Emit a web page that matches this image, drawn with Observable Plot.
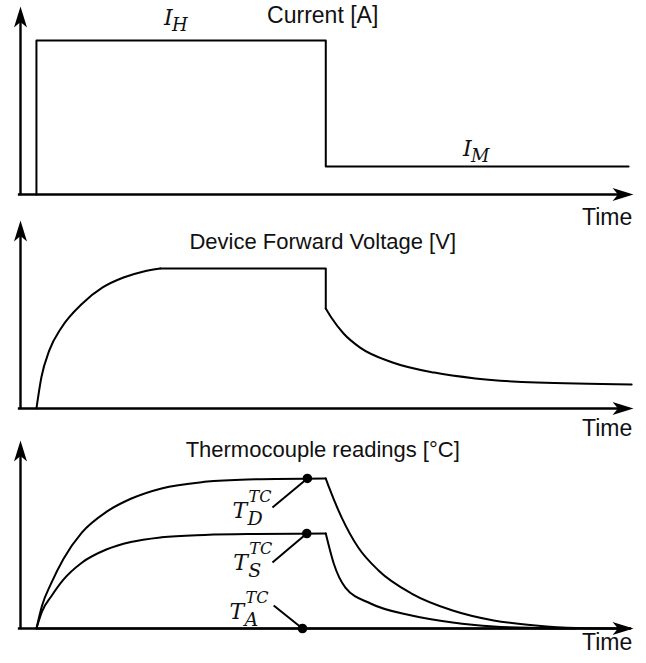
<!DOCTYPE html>
<html><head><meta charset="utf-8">
<script src="https://cdn.jsdelivr.net/npm/d3@7"></script>
<script src="https://cdn.jsdelivr.net/npm/@observablehq/plot@0.6"></script>
<style>
body{margin:0;background:#fff;}
#chart{position:relative;width:646px;height:663px;overflow:hidden;background:#fff;}
#chart svg{position:absolute;left:0;overflow:visible;}
</style></head><body><div id="chart"></div>
<script>
// ---- text ----
const titles = ["Current [A]", "Device Forward Voltage [V]", "Thermocouple readings [°C]"];
const titleX = [49.3, 49.3, 49.3];
const titleBaseline = [0.91, 0.851, 0.91];
const timeLabel = "Time";
const timeLabelBaseline = [-0.16, -0.145, -0.117];

// ---- panel 1: current ----
const currentTime  = [2.6, 2.6, 49.8, 49.8, 99.2];
const currentValue = [0, 0.819, 0.819, 0.149, 0.149];
const currentLabelMain = ["I", "I"];
const currentLabelSub  = ["H", "M"];
const currentLabelTime = [23.4, 72.2];
const currentLabelValue = [0.899, 0.207];

// ---- panel 2: forward voltage ----
const voltageRiseTime  = [2.6, 3.4, 4.7, 6.7, 10.1, 13.4, 16.8, 20.1, 22.8];
const voltageRiseValue = [0, 0.165, 0.309, 0.431, 0.559, 0.644, 0.697, 0.729, 0.745];
const voltageHoldTime  = [22.8, 49.8, 49.8];
const voltageHoldValue = [0.745, 0.745, 0.532];
const voltageDecayTime  = [49.8, 50.7, 52.7, 55.4, 60.7, 67.5, 74.2, 84.2, 99.7];
const voltageDecayValue = [0.532, 0.484, 0.399, 0.324, 0.245, 0.191, 0.160, 0.138, 0.128];

// ---- panel 3: thermocouples ----
const tcRiseTime  = [2.6, 3.5, 5, 7, 10, 14, 18, 23, 30, 37, 49.8];
const tdRiseValue = [0, 0.12, 0.24, 0.37, 0.51, 0.62, 0.69, 0.745, 0.78, 0.793, 0.798];
const tsRiseValue = [0, 0.09, 0.17, 0.26, 0.35, 0.42, 0.46, 0.485, 0.498, 0.503, 0.505];
const tdDecayTime  = [49.8, 50.4, 52.4, 55.1, 58.4, 63.8, 70.5, 77.2, 84.0, 90.7, 99.5];
const tdDecayValue = [0.798, 0.745, 0.59, 0.431, 0.309, 0.186, 0.096, 0.043, 0.016, 0.003, 0];
const tsDecayTime  = [49.8, 51.1, 53.0, 57.1, 63.8, 70.5, 77.2, 84.0, 90.7];
const tsDecayValue = [0.505, 0.346, 0.218, 0.133, 0.069, 0.032, 0.011, 0.003, 0];
const taTime  = [2.6, 99.5];
const taValue = [0, 0];
const tcLabelMain = ["T", "T", "T"];
const tcLabelSub  = ["D", "S", "A"];
const tcLabelSup  = ["TC", "TC", "TC"];
const tcLabelTime  = [34.6, 34.7, 34.1];
const tcLabelValue = [0.59, 0.309, 0.053];
const tcLeaderTime1  = [41.1, 41.1, 41.3];
const tcLeaderValue1 = [0.644, 0.351, 0.122];
const tcPointTime  = [46.8, 46.7, 46.0];
const tcPointValue = [0.798, 0.505, 0];

// ---- helpers ----
const zip = (t, v) => t.map((d, i) => ({t: d, v: v[i]}));
const X_DOMAIN = [0, 100];
const Y_DOMAIN = [0, 1];
const mathFont = "'DejaVu Serif', 'Liberation Serif', serif";
const sansFont = "'Liberation Sans', Arial, sans-serif";

const arrowHead = {
  draw(ctx) {
    ctx.moveTo(0, 0);
    ctx.lineTo(6.5, 21);
    ctx.lineTo(0, 15.5);
    ctx.lineTo(-6.5, 21);
    ctx.closePath();
  }
};

function axesMarks() {
  return [
    Plot.ruleY([0], {x1: -0.35, x2: 97.8, stroke: "black", strokeWidth: 2.4}),
    Plot.ruleX([0], {y1: -0.006, y2: 0.95, stroke: "black", strokeWidth: 2.4}),
    Plot.dot([{t: X_DOMAIN[1], v: 0}], {x: "t", y: "v", symbol: arrowHead, rotate: 90, fill: "black", stroke: "none"}),
    Plot.dot([{t: 0, v: Y_DOMAIN[1]}], {x: "t", y: "v", symbol: arrowHead, rotate: 0, fill: "black", stroke: "none"})
  ];
}

function textMarks(i) {
  return [
    Plot.text([titles[i]], {x: titleX[i], y: titleBaseline[i], text: d => d, textAnchor: "middle", lineAnchor: "bottom",
      fontSize: i === 0 ? 23 : 22, fontFamily: sansFont, fill: "#111"}),
    Plot.text([timeLabel], {x: 99.8, y: timeLabelBaseline[i], text: d => d, textAnchor: "end", lineAnchor: "bottom",
      fontSize: 23, fontFamily: sansFont, fill: "#111"})
  ];
}

function panel(i, height, marks) {
  return Plot.plot({
    width: 646, height,
    marginLeft: 20, marginRight: 13, marginTop: 6, marginBottom: height - 194,
    x: {domain: X_DOMAIN, axis: null},
    y: {domain: Y_DOMAIN, axis: null},
    style: {overflow: "visible", background: "transparent"},
    marks: [...axesMarks(), ...textMarks(i), ...marks]
  });
}

const lineStyle = {x: "t", y: "v", stroke: "black", strokeWidth: 2};
const mathText = {x: "t", y: "v", textAnchor: "start", lineAnchor: "bottom", fontStyle: "italic", fontFamily: mathFont, fill: "#111"};

// panel 1
const curLabels = currentLabelMain.map((m, i) => ({t: currentLabelTime[i], v: currentLabelValue[i], main: m, sub: currentLabelSub[i]}));
const p1 = panel(0, 230, [
  Plot.line(zip(currentTime, currentValue), {...lineStyle, curve: "linear"}),
  Plot.text(curLabels, {...mathText, text: "main", fontSize: 22}),
  Plot.text(curLabels, {...mathText, text: "sub", dx: 8, dy: 6, fontSize: 18})
]);

// panel 2
const p2 = panel(1, 230, [
  Plot.line(zip(voltageRiseTime, voltageRiseValue), {...lineStyle, curve: "monotone-x"}),
  Plot.line(zip(voltageHoldTime, voltageHoldValue), {...lineStyle, curve: "linear"}),
  Plot.line(zip(voltageDecayTime, voltageDecayValue), {...lineStyle, curve: "monotone-x"})
]);

// panel 3
const tcLabels = tcLabelMain.map((m, i) => ({
  t: tcLabelTime[i], v: tcLabelValue[i], main: m, sub: tcLabelSub[i], sup: tcLabelSup[i],
  t1: tcLeaderTime1[i], v1: tcLeaderValue1[i], t2: tcPointTime[i], v2: tcPointValue[i]
}));
const p3 = panel(2, 229, [
  Plot.line(zip(taTime, taValue), {...lineStyle, curve: "linear"}),
  Plot.line(zip(tcRiseTime, tdRiseValue), {...lineStyle, curve: "monotone-x"}),
  Plot.line(zip(tdDecayTime, tdDecayValue), {...lineStyle, curve: "monotone-x"}),
  Plot.line(zip(tcRiseTime, tsRiseValue), {...lineStyle, curve: "monotone-x"}),
  Plot.line(zip(tsDecayTime, tsDecayValue), {...lineStyle, curve: "monotone-x"}),
  Plot.link(tcLabels, {x1: "t1", y1: "v1", x2: "t2", y2: "v2", stroke: "black", strokeWidth: 2}),
  Plot.dot(tcLabels, {x: "t2", y: "v2", r: 4.8, fill: "black", stroke: "none"}),
  Plot.text(tcLabels, {...mathText, text: "main", fontSize: 22}),
  Plot.text(tcLabels, {...mathText, text: "sub", dx: 15, dy: 7, fontSize: 19}),
  Plot.text(tcLabels, {...mathText, text: "sup", dx: 16, dy: -16, fontSize: 16})
]);

const chart = document.getElementById("chart");
[[p1, 0], [p2, 214], [p3, 434]].forEach(([svg, top]) => {
  svg.style.top = top + "px";
  chart.appendChild(svg);
});
</script></body></html>
